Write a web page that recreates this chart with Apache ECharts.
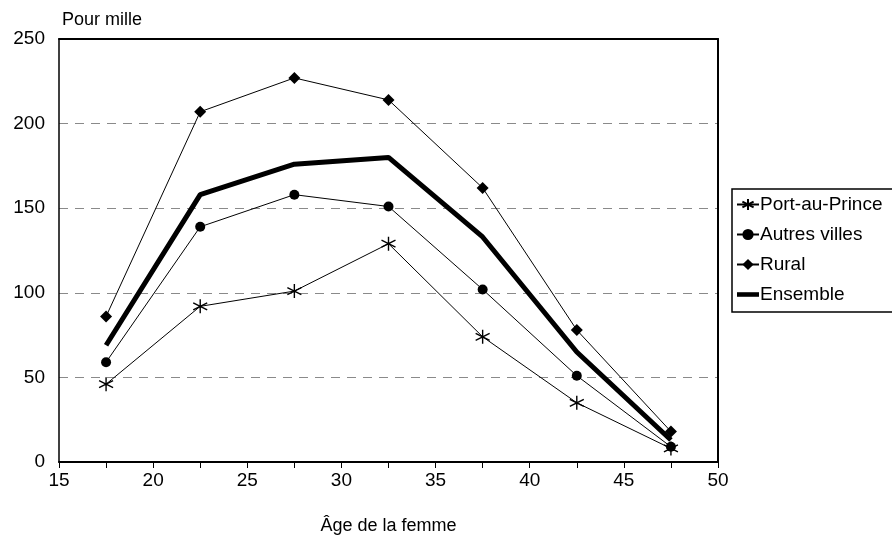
<!DOCTYPE html>
<html><head><meta charset="utf-8">
<script src="https://cdn.jsdelivr.net/npm/echarts@6/dist/echarts.min.js"></script>
<style>html,body{margin:0;padding:0;background:#fff}#c{width:892px;height:537px}</style>
</head><body><div id="c"></div>
<script>
const ages = [17.5, 22.5, 27.5, 32.5, 37.5, 42.5, 47.5];
const portAuPrince = [46, 92, 101, 129, 74, 35, 8];
const autresVilles = [59, 139, 158, 151, 102, 51, 9];
const rural = [86, 207, 227, 214, 162, 78, 18];
const ensemble = [69, 158, 176, 180, 133, 65, 13];
const seriesNames = ['Port-au-Prince', 'Autres villes', 'Rural', 'Ensemble'];
const yTicks = [0, 50, 100, 150, 200, 250];
const xTicks = [15, 20, 25, 30, 35, 40, 45, 50];

const pts = arr => ages.map((a, i) => [a, arr[i]]);
const font = 'Liberation Sans';
const asterisk = 'path://M0,-10L0,10M-8.66,-5L8.66,5M-8.66,5L8.66,-5';

const chart = echarts.init(document.getElementById('c'), null, {renderer: 'canvas'});
chart.setOption({
  animation: false,
  backgroundColor: '#fff',
  textStyle: {fontFamily: font},
  grid: {left: 59, right: 174, top: 39, bottom: 75, show: false, containLabel: false, outerBoundsMode: 'none'},
  xAxis: [{
    type: 'value', min: 15, max: 50, interval: 2.5,
    name: 'Âge de la femme', nameLocation: 'middle', nameGap: 55,
    nameTextStyle: {fontSize: 18, color: '#000', fontFamily: font},
    axisLine: {show: true, onZero: false, lineStyle: {color: '#000', width: 2}},
    axisTick: {show: true, length: 6, lineStyle: {color: '#000'}},
    splitLine: {show: false},
    axisLabel: {fontSize: 19, color: '#000', margin: 9, fontFamily: font,
      formatter: v => xTicks.includes(v) ? String(v) : ''}
  }, {
    type: 'value', min: 15, max: 50, position: 'top',
    axisLine: {show: true, onZero: false, lineStyle: {color: '#000', width: 2}},
    axisTick: {show: false}, axisLabel: {show: false}, splitLine: {show: false}
  }],
  yAxis: [{
    type: 'value', min: 0, max: 250, interval: 50,
    name: 'Pour mille', nameLocation: 'end', nameGap: 10,
    nameTextStyle: {fontSize: 18, color: '#000', align: 'left', padding: [0, 0, 0, 3], fontFamily: font},
    axisLine: {show: true, onZero: false, lineStyle: {color: '#000', width: 1.5}},
    axisTick: {show: false},
    splitLine: {show: true, lineStyle: {color: '#8a8a8a', type: [9, 7], width: 1}},
    axisLabel: {fontSize: 19, color: '#000', margin: 14, fontFamily: font,
      formatter: v => yTicks.includes(v) ? String(v) : ''}
  }, {
    type: 'value', min: 0, max: 250, position: 'right',
    axisLine: {show: true, onZero: false, lineStyle: {color: '#000', width: 2}},
    axisTick: {show: false}, axisLabel: {show: false}, splitLine: {show: false}
  }],
  legend: {
    orient: 'vertical', left: 732, top: 189,
    backgroundColor: '#fff', borderColor: '#000', borderWidth: 1.5,
    padding: [6, 30, 8, 4], itemGap: 11, itemWidth: 22, itemHeight: 14,
    textStyle: {fontSize: 19, color: '#000', fontFamily: font, padding: [0, 0, 0, -4]},
    data: [
      {name: seriesNames[0]},
      {name: seriesNames[1]},
      {name: seriesNames[2]},
      {name: seriesNames[3], icon: 'path://M0,0L24,0L24,5L0,5Z', itemStyle: {color: '#000'}}
    ]
  },
  series: [
    {name: seriesNames[0], type: 'line', data: pts(portAuPrince), symbol: asterisk, symbolSize: 14,
      itemStyle: {color: 'none', borderColor: '#000', borderWidth: 1.4},
      lineStyle: {color: '#000', width: 1}, z: 3},
    {name: seriesNames[1], type: 'line', data: pts(autresVilles), symbol: 'circle', symbolSize: 10,
      itemStyle: {color: '#000'}, lineStyle: {color: '#000', width: 1}, z: 3},
    {name: seriesNames[2], type: 'line', data: pts(rural), symbol: 'diamond', symbolSize: 12,
      itemStyle: {color: '#000'}, lineStyle: {color: '#000', width: 1}, z: 3},
    {name: seriesNames[3], type: 'line', data: pts(ensemble), symbol: 'none', showSymbol: false,
      itemStyle: {color: '#000'}, lineStyle: {color: '#000', width: 5}, z: 2}
  ]
});
</script></body></html>
